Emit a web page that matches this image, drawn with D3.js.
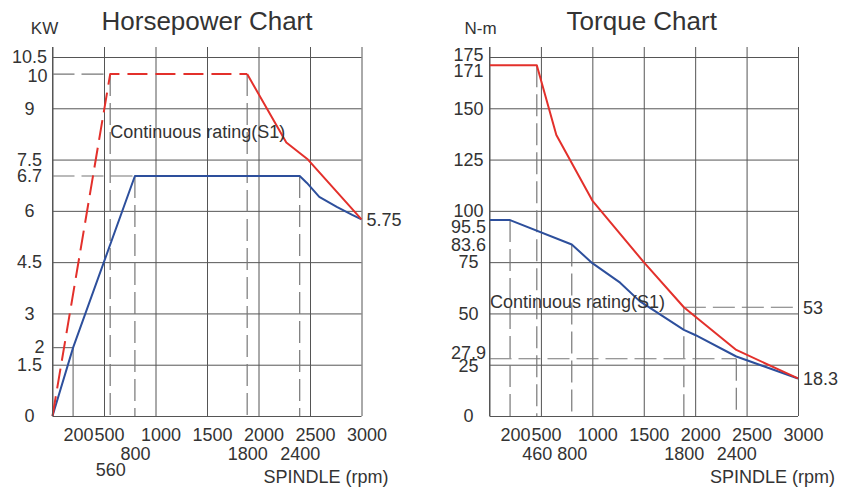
<!DOCTYPE html>
<html>
<head>
<meta charset="utf-8">
<script src="https://cdn.jsdelivr.net/npm/d3@7"></script>
<style>
  body { margin: 0; background: #fff; }
  svg { display: block; font-family: "Liberation Sans", Arial, sans-serif; }
  .grid line { stroke: #555; stroke-width: 1; }
  .grid path, .labels path { display: none; }
  .labels text { font-size: 18px; fill: #333; font-family: "Liberation Sans", Arial, sans-serif; }
  .guide { stroke: #777; stroke-width: 1.2; stroke-dasharray: 22 7; fill: none; }
  .guide.solid { stroke-dasharray: none; }
  .curve { fill: none; stroke-width: 2; stroke-linejoin: round; }
  .peak { stroke: #e3302b; }
  .cont { stroke: #2d4f9c; }
  .dashed { stroke-dasharray: 20 8; }
  .txt { fill: #333; font-size: 18px; }
</style>
</head>
<body>
<svg id="chart" width="841" height="489"></svg>
<script>
'use strict';

// ---- horsepower chart (kW) ----
const hpGridX = [0, 500, 1000, 1500, 2000, 2500, 3000];
const hpGridY = [1.5, 3, 4.5, 6, 7.5, 9, 10.5];
const hpTicksY = [0, 1.5, 2, 3, 4.5, 6, 6.7, 7.5, 9, 10, 10.5];
const hpTicksX1 = [200, 500, 1000, 1500, 2000, 2500, 3000];
const hpTicksX2 = [800, 1800, 2400];
const hpTicksX3 = [560];
// peak (red) and continuous S1 (blue), [rpm, kW]
const hpPeak = [[0, 0], [560, 10], [1800, 10], [2270, 8], [2480, 7.5], [3000, 5.75]];
const hpCont = [[0, 0], [200, 2], [800, 6.7], [2400, 6.7], [2470, 6.56], [2590, 6.28],
  [2760, 6.08], [2910, 5.88], [3000, 5.75]];
// marked points: vertical drop lines to the rpm axis
const hpMarks = [[200, 2], [560, 10], [800, 6.7], [1800, 10], [2400, 6.7]];
// horizontal reference lines [fromRpm, toRpm, kW]
const hpMarksH = [[0, 200, 2], [0, 560, 10], [0, 800, 6.7]];
const hpEndLabels = [[3000, 5.75]];

// ---- torque chart (N-m) ----
const tqGridX = [0, 500, 1000, 1500, 2000, 2500, 3000];
const tqGridY = [25, 50, 75, 100, 125, 150, 175];
const tqTicksY = [0, 25, 27.9, 50, 75, 83.6, 95.5, 100, 125, 150, 171, 175];
const tqTicksX1 = [200, 500, 1000, 1500, 2000, 2500, 3000];
const tqTicksX2 = [460, 800, 1800, 2400];
const tqPeak = [[0, 171], [460, 171], [650, 137], [1000, 105], [1500, 75], [1800, 53],
  [2000, 48.5], [2400, 32.2], [3000, 18.3]];
const tqCont = [[0, 95.5], [200, 95.5], [800, 83.6], [1000, 74.5], [1270, 65], [1460, 56],
  [1800, 42], [2000, 39.5], [2400, 29], [3000, 18.3]];
const tqMarks = [[200, 95.5], [460, 171], [800, 83.6], [1800, 53], [2400, 27.9]];
const tqMarksH = [[0, 2400, 27.9], [1800, 3000, 53]];
const tqEndLabels = [[3000, 53], [3000, 18.3]];

const svg = d3.select('#chart');

function drawChart(cfg) {
  const g = svg.append('g');
  const xBase = d3.scaleLinear().domain([0, 3000]).range([cfg.left, cfg.right]);
  // the drawing places its 1800 mark a bit right of true scale
  const x = d3.scaleLinear()
    .domain([0, 1500, 1800, 2000, 3000])
    .range([0, 1500, 1890, 2000, 3000].map(xBase));
  const yBase = d3.scaleLinear().domain(cfg.yDomain).range([cfg.bottom, cfg.top]);
  const y = d3.scaleLinear().domain(cfg.yKnots).range(cfg.yKnotsAt.map(yBase));

  // vertical grid
  g.append('g')
    .attr('class', 'grid')
    .attr('transform', `translate(0,${cfg.bottom})`)
    .call(d3.axisBottom(x).tickValues(cfg.gridX).tickSize(-(cfg.bottom - cfg.gridTop)).tickFormat(''));
  // horizontal grid + base line
  g.append('g')
    .attr('class', 'grid')
    .attr('transform', `translate(${cfg.left},0)`)
    .call(d3.axisLeft(y).tickValues([0].concat(cfg.gridY)).tickSize(-(cfg.right - cfg.left)).tickFormat(''));

  // reference lines
  g.selectAll('.vguide')
    .data(cfg.marks)
    .enter().append('line')
      .attr('class', (d) => d[0] === 200 && cfg.solid200 ? 'guide solid' : 'guide')
      .attr('x1', (d) => x(d[0]))
      .attr('x2', (d) => x(d[0]))
      .attr('y1', (d) => y(d[1]))
      .attr('y2', cfg.bottom);
  g.selectAll('.hguide')
    .data(cfg.marksH)
    .enter().append('line')
      .attr('class', (d) => d[1] === 200 && cfg.solid200 ? 'guide solid' : 'guide')
      .attr('x1', (d) => x(d[0]))
      .attr('x2', (d) => x(d[1]))
      .attr('y1', (d) => y(d[2]))
      .attr('y2', (d) => y(d[2]));

  const line = d3.line().x((d) => x(d[0])).y((d) => y(d[1]));
  g.append('path')
    .attr('class', 'curve cont')
    .attr('d', line(cfg.cont));
  if (cfg.peakDashTo) {
    g.append('path')
      .attr('class', 'curve peak dashed')
      .attr('d', line(cfg.peak.filter((d) => d[0] <= cfg.peakDashTo)));
    g.append('path')
      .attr('class', 'curve peak')
      .attr('d', line(cfg.peak.filter((d) => d[0] >= cfg.peakDashTo)));
  } else {
    g.append('path')
      .attr('class', 'curve peak')
      .attr('d', line(cfg.peak));
  }

  // y tick labels, centred in the margin
  const yAxis = g.append('g')
    .attr('class', 'labels')
    .attr('transform', `translate(${cfg.left},0)`)
    .call(d3.axisLeft(y).tickValues(cfg.ticksY).tickSize(0).tickFormat((d) => String(d)));
  yAxis.selectAll('text')
    .attr('text-anchor', 'middle')
    .attr('x', (d) => -cfg.yLabelX + ((cfg.yNudge[d] || [0, 0])[0]))
    .attr('dy', (d) => (0.32 * 18 + (cfg.yNudge[d] || [0, 0])[1]) + 'px');

  // x tick labels in rows
  cfg.rowsX.forEach((row, i) => {
    const ax = g.append('g')
      .attr('class', 'labels')
      .attr('transform', `translate(0,${cfg.bottom})`)
      .call(d3.axisBottom(x).tickValues(row).tickSize(0).tickPadding(cfg.rowPad[i])
        .tickFormat((d) => String(d)));
    ax.selectAll('text').attr('dx', i === 0 ? 5 : 0);
  });

  // left axis line drawn over the grid top
  g.append('line')
    .attr('x1', cfg.left).attr('x2', cfg.left)
    .attr('y1', cfg.gridTop).attr('y2', cfg.bottom)
    .attr('stroke', '#555');

  // end value labels
  g.selectAll('.endlabel')
    .data(cfg.endLabels)
    .enter().append('text')
      .attr('class', 'txt')
      .attr('x', (d) => x(d[0]) + 5)
      .attr('y', (d) => y(d[1]))
      .attr('dy', '0.35em')
      .text((d) => String(d[1]));

  g.append('text')
    .attr('class', 'txt')
    .attr('x', x(cfg.note[0]))
    .attr('y', y(cfg.note[1]))
    .text('Continuous rating(S1)');

  g.append('text')
    .attr('class', 'txt')
    .attr('x', (cfg.left + cfg.right) / 2 + cfg.titleDx)
    .attr('y', 30)
    .attr('text-anchor', 'middle')
    .style('font-size', '26px')
    .text(cfg.title);

  g.append('text')
    .attr('class', 'txt')
    .attr('x', cfg.left + cfg.unitDx)
    .attr('y', 34)
    .attr('text-anchor', 'middle')
    .style('font-size', '17px')
    .text(cfg.unit);

  g.append('text')
    .attr('class', 'txt')
    .attr('x', cfg.right + cfg.spindleDx)
    .attr('y', 483)
    .attr('text-anchor', 'end')
    .text('SPINDLE (rpm)');
}

drawChart({
  left: 52.5, right: 361.5, top: 57, bottom: 416, gridTop: 47,
  yDomain: [0, 10.5], yKnots: [0, 6, 6.7, 7.5, 10.5], yKnotsAt: [0, 6, 7.02, 7.5, 10.5],
  gridX: hpGridX, gridY: hpGridY, ticksY: hpTicksY,
  rowsX: [hpTicksX1, hpTicksX2, hpTicksX3], rowPad: [12, 31, 47],
  peak: hpPeak, cont: hpCont, peakDashTo: 1800,
  marks: hpMarks, marksH: hpMarksH, solid200: true,
  endLabels: hpEndLabels,
  yLabelX: 23, yNudge: { 10: [8, 2], 2: [10, -1] },
  note: [560, 8.13],
  title: 'Horsepower Chart', titleDx: 0, unit: 'KW', unitDx: -8, spindleDx: 27
});

drawChart({
  left: 489.5, right: 798, top: 57, bottom: 416, gridTop: 47,
  yDomain: [0, 175], yKnots: [0, 175], yKnotsAt: [0, 175],
  gridX: tqGridX, gridY: tqGridY, ticksY: tqTicksY,
  rowsX: [tqTicksX1, tqTicksX2], rowPad: [12, 31],
  peak: tqPeak, cont: tqCont, peakDashTo: null,
  marks: tqMarks, marksH: tqMarksH, solid200: false,
  endLabels: tqEndLabels,
  yLabelX: 21, yNudge: { 175: [0, -2], 171: [0, 6], 95.5: [0, 7], 27.9: [0, -6], 25: [0, 1] },
  note: [5, 52.7],
  title: 'Torque Chart', titleDx: -2, unit: 'N-m', unitDx: -9, spindleDx: 37
});
</script>
</body>
</html>
